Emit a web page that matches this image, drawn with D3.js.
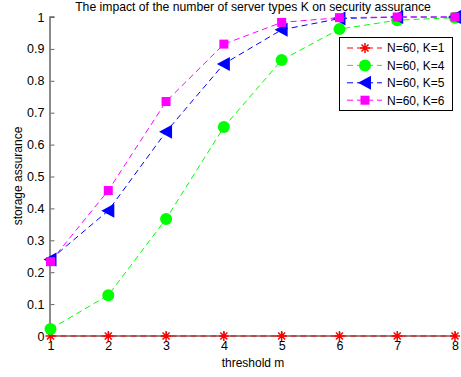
<!DOCTYPE html>
<html><head><meta charset="utf-8">
<script src="https://cdn.jsdelivr.net/npm/d3@7"></script>
<style>body{margin:0;background:#fff}svg{display:block;font-family:"Liberation Sans",Arial,sans-serif}</style>
</head><body>
<script>
const thresholds = [1,2,3,4,5,6,7,8];
const seriesNames = ["N=60, K=1","N=60, K=4","N=60, K=5","N=60, K=6"];
const k1 = [0,0,0,0,0,0,0,0];
const k4 = [0.022,0.128,0.367,0.655,0.865,0.962,0.990,0.998];
const k5 = [0.240,0.393,0.640,0.853,0.960,0.995,1.0,1.0];
const k6 = [0.233,0.456,0.735,0.915,0.983,0.998,1.0,1.0];
const yTicks = [0,0.1,0.2,0.3,0.4,0.5,0.6,0.7,0.8,0.9,1];
const titleText = "The impact of the number of server types K on security assurance";
const xLabel = "threshold m", yLabel = "storage assurance";

const series = [
  {name:seriesNames[0], values:k1, color:"#ff0000", marker:"star"},
  {name:seriesNames[1], values:k4, color:"#00ff00", marker:"circle"},
  {name:seriesNames[2], values:k5, color:"#0000ff", marker:"tri"},
  {name:seriesNames[3], values:k6, color:"#ff00ff", marker:"square"}
];

const W=461,H=377;
const svg=d3.select("body").append("svg").attr("width",W).attr("height",H);
const x=d3.scaleLinear().domain([1,8]).range([50.5,455]);
const y=d3.scaleLinear().domain([0,1]).range([336,17]);

const yAx=svg.append("g").attr("transform","translate(50.5,0)")
  .call(d3.axisLeft(y).tickValues(yTicks).tickSize(-4).tickPadding(6).tickFormat(d=>String(d)));
const xAx=svg.append("g").attr("transform","translate(0,336)")
  .call(d3.axisBottom(x).tickValues(thresholds).tickSize(-4).tickPadding(5).tickFormat(d=>String(d)));
[yAx,xAx].forEach(g=>{
  g.select(".domain").attr("stroke","#666").attr("stroke-width",1.5);
  g.selectAll(".tick line").attr("stroke","#666");
  g.selectAll("text").attr("font-size",12.5).attr("fill","#000").attr("font-family","Liberation Sans, Arial, sans-serif");
});
yAx.select(".domain").attr("d","M-0.5,336V17H4");
xAx.select(".domain").attr("d","M50.5,0H455");

function drawMarker(g,type,color,cx,cy){
  if(type==="circle"){
    g.append("circle").attr("cx",cx).attr("cy",cy).attr("r",6).attr("fill",color);
  } else if(type==="square"){
    g.append("rect").attr("x",cx-4.5).attr("y",cy-4.5).attr("width",9).attr("height",9).attr("fill",color);
  } else if(type==="tri"){
    g.append("path").attr("d",`M${cx-7},${cy}L${cx+6},${cy-7}L${cx+6},${cy+7}Z`).attr("fill",color);
  } else if(type==="star"){
    const r=5;
    let d="";
    for(let i=0;i<4;i++){const a=i*Math.PI/4;d+=`M${cx-r*Math.cos(a)},${cy-r*Math.sin(a)}L${cx+r*Math.cos(a)},${cy+r*Math.sin(a)}`;}
    g.append("path").attr("d",d).attr("stroke",color).attr("stroke-width",1.5).attr("fill","none");
  }
}

const line=d3.line().x((d,i)=>x(thresholds[i])).y(d=>y(d));
series.forEach(s=>{
  const g=svg.append("g");
  g.append("path").attr("d",line(s.values)).attr("fill","none").attr("stroke",s.color)
    .attr("stroke-width",1).attr("stroke-dasharray","6,4");
  s.values.forEach((v,i)=>drawMarker(g,s.marker,s.color,x(thresholds[i]),y(v)));
});

svg.append("text").attr("x",253).attr("y",11).attr("text-anchor","middle").attr("font-size",12.2).text(titleText);
svg.append("text").attr("x",253).attr("y",367).attr("text-anchor","middle").attr("font-size",12).text(xLabel);
svg.append("text").attr("transform","translate(22,176) rotate(-90)").attr("text-anchor","middle").attr("font-size",12).text(yLabel);

const lg=svg.append("g");
lg.append("rect").attr("x",339.5).attr("y",37.5).attr("width",113).attr("height",73).attr("fill","#fff").attr("stroke","#000").attr("stroke-width",1);
series.forEach((s,i)=>{
  const ly=48+i*17.4;
  lg.append("line").attr("x1",347).attr("x2",382).attr("y1",ly).attr("y2",ly).attr("stroke",s.color).attr("stroke-dasharray","6,4");
  drawMarker(lg,s.marker,s.color,365,ly);
  lg.append("text").attr("x",387).attr("y",ly+4.3).attr("font-size",12).text(s.name);
});
</script>
</body></html>
